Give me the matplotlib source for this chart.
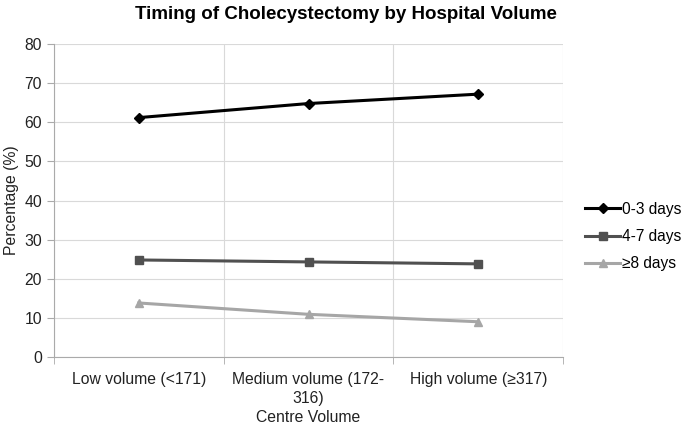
import matplotlib
matplotlib.use("Agg")
import matplotlib.pyplot as plt
from matplotlib.ticker import FixedLocator

plt.rcParams['font.family'] = ['Liberation Sans', 'DejaVu Sans']

categories = ["Low volume (<171)", "Medium volume (172-\n316)", "High volume (\u2265317)"]
series_names = ["0-3 days", "4-7 days", "\u22658 days"]
days_0_3 = [61.2, 64.8, 67.2]
days_4_7 = [24.8, 24.3, 23.8]
days_8 = [13.8, 10.9, 9.0]
yticks = [0, 10, 20, 30, 40, 50, 60, 70, 80]

fig = plt.figure(figsize=(6.85, 4.28), dpi=100)
ax = fig.add_axes([0.0788, 0.166, 0.7432, 0.731])

x = list(range(len(categories)))
ax.plot(x, days_0_3, color='black', lw=2.2, marker='D', ms=5.5, label=series_names[0])
ax.plot(x, days_4_7, color='#505050', lw=2.2, marker='s', ms=5.5, label=series_names[1])
ax.plot(x, days_8, color='#a6a6a6', lw=2.2, marker='^', ms=6, label=series_names[2])

ax.set_xlim(-0.5, len(categories) - 0.5)
ax.set_ylim(0, 80)
ax.set_yticks(yticks)
ax.set_xticks(x)
ax.set_xticklabels(categories, fontsize=11.3, color='#222222', linespacing=1.3)
ax.tick_params(axis='x', length=0, pad=11)
ax.xaxis.set_minor_locator(FixedLocator([-0.5, 0.5, 1.5, 2.5]))
ax.tick_params(axis='x', which='minor', length=5, color='#aaaaaa', direction='out')
ax.tick_params(axis='y', labelsize=11.3, length=5, color='#aaaaaa', labelcolor='#222222')

ax.grid(axis='y', color='#d9d9d9', lw=0.8)
ax.grid(axis='x', which='minor', color='#d9d9d9', lw=0.8)
ax.set_axisbelow(True)
for s in ['top', 'right']:
    ax.spines[s].set_visible(False)
for s in ['left', 'bottom']:
    ax.spines[s].set_color('#aaaaaa')
    ax.spines[s].set_linewidth(0.8)

ax.set_xlabel("Centre Volume", fontsize=11.3, color='#222222', labelpad=3)
ax.set_ylabel("Percentage (%)", fontsize=11.3, color='#222222', labelpad=4)
fig.suptitle("Timing of Cholecystectomy by Hospital Volume", fontsize=13.5, fontweight='bold', x=0.505, y=0.985)

leg = ax.legend(loc='center left', bbox_to_anchor=(1.022, 0.385), frameon=False, fontsize=11.2,
                handlelength=2.25, handletextpad=0.1, labelspacing=0.8, borderpad=0.2)

fig.savefig("out.png", dpi=100)
